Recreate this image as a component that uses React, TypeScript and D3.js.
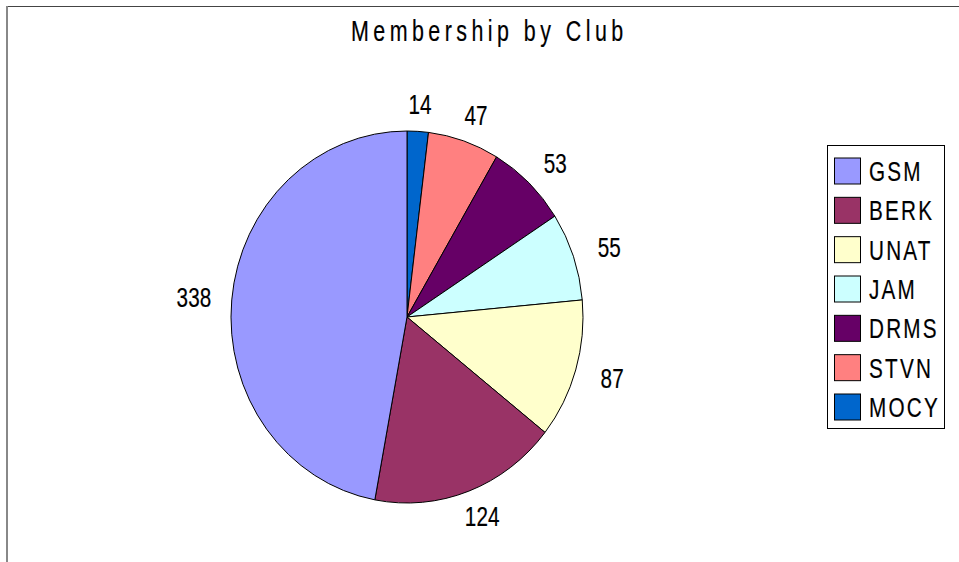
import React from "react";
import * as d3 from "d3";

const categories = ["GSM", "BERK", "UNAT", "JAM", "DRMS", "STVN", "MOCY"];
const values = [338, 124, 87, 55, 53, 47, 14];
const colors = ["#9999FF", "#993366", "#FFFFCC", "#CCFFFF", "#660066", "#FF8080", "#0066CC"];
const title = "Membership by Club";

const W = 959;
const H = 562;
const cx = 407;
const cy = 317;
const rx = 176;
const ry = 186;
const labelRx = 214;
const labelRy = 213;
const FONT = "'Liberation Sans', Arial, sans-serif";
const FS = 28;
const SX = 0.74;
const TS = 0.2;

export default function App() {
  const items = categories.map((c, i) => ({ name: c, value: values[i], color: colors[i] }));
  const drawOrder = items.slice().reverse();
  const pie = d3
    .pie<any>()
    .sort(null)
    .value((d) => d.value)
    .startAngle(0)
    .endAngle(2 * Math.PI);
  const arcs = pie(drawOrder);
  const arc = d3.arc<any>().innerRadius(0).outerRadius(ry);

  const legendY = d3
    .scalePoint<string>()
    .domain(categories)
    .range([171, 407]);

  return (
    <svg
      width={W}
      height={H}
      style={{ position: "absolute", left: 0, top: 0, background: "#fff" }}
      fontFamily={FONT}
    >
      <rect x={0} y={0} width={W} height={H} fill="#fff" />
      <line x1={6} y1={6.5} x2={W} y2={6.5} stroke="#444" strokeWidth={1} />
      <line x1={7} y1={6} x2={7} y2={H} stroke="#888" strokeWidth={2} />

      <g transform={`translate(351,40.5) scale(${SX},1)`}>
        <text x={0} y={0} fontSize={FS + 1} letterSpacing={6} fill="#000" stroke="#000" strokeWidth={TS}>
          {title}
        </text>
      </g>

      <g transform={`translate(${cx},${cy}) scale(${rx / ry},1)`}>
        {arcs.map((a, i) => (
          <path
            key={i}
            d={arc(a) as string}
            fill={a.data.color}
            stroke="#000"
            strokeWidth={1}
            vectorEffect="non-scaling-stroke"
          />
        ))}
      </g>

      {arcs.map((a, i) => {
        const mid = (a.startAngle + a.endAngle) / 2;
        const x = cx + labelRx * Math.sin(mid);
        const y = cy - labelRy * Math.cos(mid);
        return (
          <g key={i} transform={`translate(${x},${y + 10}) scale(${SX},1)`}>
            <text x={0} y={0} fontSize={FS} textAnchor="middle" fill="#000" stroke="#000" strokeWidth={TS}>
              {a.data.value}
            </text>
          </g>
        );
      })}

      <rect x={827.5} y={145.5} width={117} height={283} fill="#fff" stroke="#000" strokeWidth={1} />
      {items.map((d) => {
        const yc = legendY(d.name) as number;
        return (
          <g key={d.name}>
            <rect x={834.5} y={yc - 13} width={26} height={26} fill={d.color} stroke="#000" strokeWidth={1} />
            <g transform={`translate(869,${yc + 10}) scale(${SX},1)`}>
              <text x={0} y={0} fontSize={FS} letterSpacing={3} fill="#000" stroke="#000" strokeWidth={TS}>
                {d.name}
              </text>
            </g>
          </g>
        );
      })}
    </svg>
  );
}
